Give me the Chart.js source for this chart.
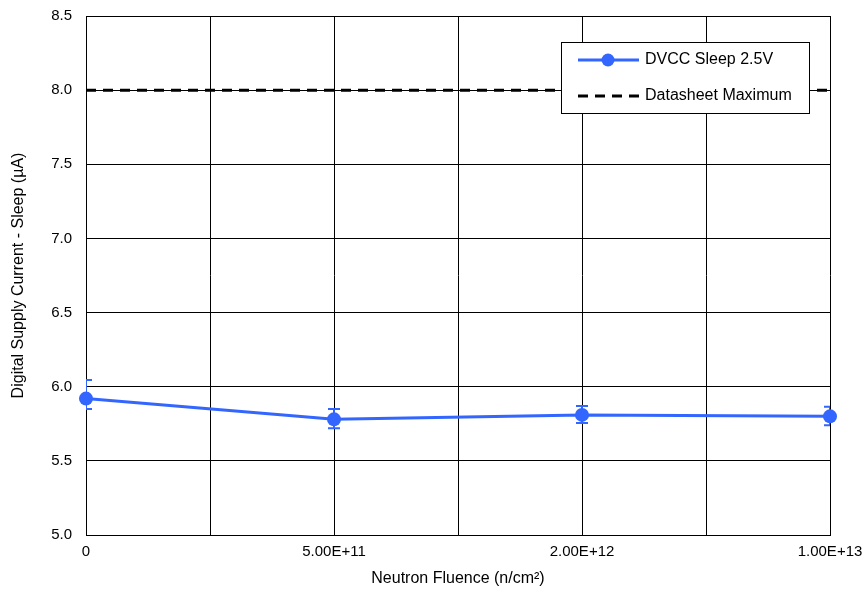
<!DOCTYPE html>
<html>
<head>
<meta charset="utf-8">
<script src="https://cdn.jsdelivr.net/npm/chart.js@4"></script>
<style>
  html, body { margin: 0; padding: 0; background: #fff; }
  #wrap { width: 868px; height: 592px; }
</style>
</head>
<body>
<div id="wrap"><canvas id="lineChart" width="868" height="592"></canvas></div>
<script>
// fluence categories, placed at every other grid column
const fluenceLabels = ['0', '5.00E+11', '2.00E+12', '1.00E+13'];
const fluencePos = [0, 2, 4, 6];
const sleepCurrent = [5.92, 5.78, 5.81, 5.80];
const errHigh = [6.045, 5.85, 5.87, 5.865];
const errLow = [5.85, 5.72, 5.755, 5.74];
const datasheetMax = 8.0;
const yTicks = [5.0, 5.5, 6.0, 6.5, 7.0, 7.5, 8.0, 8.5];

const blue = '#3366ff';
const font = 'Liberation Sans, Arial, sans-serif';

// vertical error bars drawn under the markers
const errorBars = {
  id: 'errorBars',
  beforeDatasetsDraw(chart) {
    const { ctx, chartArea, scales } = chart;
    ctx.save();
    ctx.beginPath();
    ctx.rect(chartArea.left, chartArea.top, chartArea.width, chartArea.height);
    ctx.clip();
    ctx.strokeStyle = blue;
    ctx.lineWidth = 2;
    fluencePos.forEach((p, i) => {
      let x = scales.x.getPixelForValue(p);
      let yh = scales.y.getPixelForValue(errHigh[i]);
      let yl = scales.y.getPixelForValue(errLow[i]);
      ctx.beginPath();
      ctx.moveTo(x, yh); ctx.lineTo(x, yl);
      ctx.moveTo(x - 6, yh); ctx.lineTo(x + 6, yh);
      ctx.moveTo(x - 6, yl); ctx.lineTo(x + 6, yl);
      ctx.stroke();
    });
    ctx.restore();
  }
};

// boxed legend inside the plot
const boxLegend = {
  id: 'boxLegend',
  afterDraw(chart) {
    const { ctx } = chart;
    let x0 = 561, y0 = 42, w = 248, h = 71;
    ctx.save();
    ctx.fillStyle = '#fff';
    ctx.fillRect(x0, y0, w, h);
    ctx.strokeStyle = '#000';
    ctx.lineWidth = 1;
    ctx.strokeRect(x0 + 0.5, y0 + 0.5, w, h);

    ctx.strokeStyle = blue;
    ctx.lineWidth = 3;
    ctx.beginPath();
    ctx.moveTo(578, 60); ctx.lineTo(639, 60);
    ctx.stroke();
    ctx.fillStyle = blue;
    ctx.beginPath();
    ctx.arc(608, 60, 6.5, 0, Math.PI * 2);
    ctx.fill();

    ctx.strokeStyle = '#000';
    ctx.setLineDash([10, 7]);
    ctx.beginPath();
    ctx.moveTo(578, 96); ctx.lineTo(639, 96);
    ctx.stroke();
    ctx.setLineDash([]);

    ctx.fillStyle = '#000';
    ctx.font = '16px ' + font;
    ctx.textBaseline = 'middle';
    ctx.fillText('DVCC Sleep 2.5V', 645, 60);
    ctx.fillText('Datasheet Maximum', 645, 96);
    ctx.restore();
  }
};

let lineCtx = document.getElementById('lineChart');

let lineConfig = {
  type: 'line',
  data: {
    datasets: [{
      label: 'DVCC Sleep 2.5V',
      data: fluencePos.map((p, i) => ({ x: p, y: sleepCurrent[i] })),
      borderColor: blue,
      backgroundColor: blue,
      borderWidth: 3,
      pointRadius: 7,
      pointBorderWidth: 0,
      tension: 0,
      clip: false,
    }, {
      label: 'Datasheet Maximum',
      data: [{ x: 0, y: datasheetMax }, { x: 6, y: datasheetMax }],
      borderColor: '#000',
      borderWidth: 3,
      borderDash: [10, 7],
      pointRadius: 0,
    }],
  },
  options: {
    responsive: false,
    animation: false,
    layout: { padding: { top: 16, right: 38, left: 0, bottom: 0 } },
    plugins: {
      legend: { display: false },
      tooltip: { enabled: false },
    },
    scales: {
      x: {
        type: 'linear',
        min: 0,
        max: 6,
        afterBuildTicks: (s) => { s.ticks = [0, 1, 2, 3, 4, 5, 6].map(v => ({ value: v })); },
        afterFit: (s) => { s.height = 57; s.paddingLeft = 0; s.paddingRight = 0; },
        ticks: {
          autoSkip: false,
          maxRotation: 0,
          color: '#000',
          font: { family: font, size: 15 },
          padding: 8,
          callback: (v) => {
            let i = fluencePos.indexOf(v);
            return i >= 0 ? fluenceLabels[i] : '';
          },
        },
        grid: { color: '#000', lineWidth: 1, drawTicks: false },
        border: { color: '#000', width: 1 },
        title: {
          display: true,
          text: 'Neutron Fluence (n/cm\u00b2)',
          color: '#000',
          font: { family: font, size: 16 },
          padding: { top: 6 },
        },
      },
      y: {
        min: 5,
        max: 8.5,
        afterBuildTicks: (s) => { s.ticks = yTicks.map(v => ({ value: v })); },
        afterFit: (s) => { s.width = 86; s.paddingTop = 0; s.paddingBottom = 0; },
        ticks: {
          color: '#000',
          font: { family: font, size: 15 },
          padding: 14,
          callback: (v) => v.toFixed(1),
        },
        grid: { color: '#000', lineWidth: 1, drawTicks: false },
        border: { color: '#000', width: 1 },
        title: {
          display: true,
          text: 'Digital Supply Current - Sleep (\u00b5A)',
          color: '#000',
          font: { family: font, size: 16 },
          padding: { top: 9, bottom: 4 },
        },
      },
    },
  },
  plugins: [errorBars, boxLegend],
};

window.lineChartInstance = new Chart(lineCtx, lineConfig);
</script>
</body>
</html>
